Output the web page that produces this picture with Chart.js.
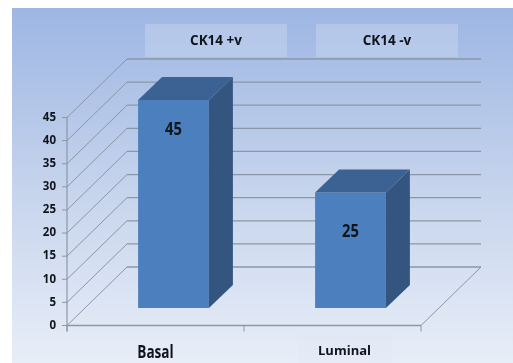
<!DOCTYPE html>
<html>
<head>
<meta charset="utf-8">
<title>CK14 expression</title>
<script src="https://cdn.jsdelivr.net/npm/chart.js@4"></script>
<style>
    body { margin: 0; background: #fff; }
    canvas { display: block; }
</style>
</head>
<body>
<canvas id="ckChart" width="513" height="363"></canvas>
<script>
// Chart data
const categories = ['Basal', 'Luminal'];
const caseCounts = [45, 25];
const wallTitles = ['CK14 +v', 'CK14 -v'];
const axisMax = 45;
const axisStep = 5;

// 3D box geometry, in pixels
const UNIT_PX = 208 / axisMax;
const BAR_SHIFT_X = 18;
const BAR_LIFT_Y = 17.5;
const BAR_DEPTH_X = 24;
const BAR_DEPTH_Y = 23;
const WALL_DEPTH_X = 60;
const WALL_DEPTH_Y = 58.5;

const FONT = '"Open Sans", sans-serif';
const GRID_COLOR = '#8b97a6';
const TEXT_COLOR = '#10151c';

function line(ctx, x1, y1, x2, y2, width) {
    ctx.lineWidth = width;
    ctx.beginPath();
    ctx.moveTo(x1, y1);
    ctx.lineTo(x2, y2);
    ctx.stroke();
}

function face(ctx, points, color) {
    ctx.fillStyle = color;
    ctx.beginPath();
    points.forEach((p, i) => (i ? ctx.lineTo(p[0], p[1]) : ctx.moveTo(p[0], p[1])));
    ctx.closePath();
    ctx.fill();
}

// Bold centred text; squeeze < 1 narrows the glyphs horizontally
function label(ctx, text, x, y, size, squeeze = 1) {
    ctx.save();
    ctx.translate(x, y);
    ctx.scale(squeeze, 1);
    ctx.fillStyle = TEXT_COLOR;
    ctx.font = `bold ${size}px ${FONT}`;
    ctx.textAlign = 'center';
    ctx.textBaseline = 'middle';
    ctx.fillText(text, 0, 0);
    ctx.restore();
}

// Background panel, walls, floor and gridlines
const wallsPlugin = {
    id: 'walls',
    beforeDraw(chart) {
        const ctx = chart.ctx;
        const grad = ctx.createLinearGradient(0, 8, 0, 363);
        grad.addColorStop(0, '#9db6e3');
        grad.addColorStop(0.5, '#c5d3ec');
        grad.addColorStop(1, '#e8eef8');
        ctx.fillStyle = grad;
        ctx.fillRect(12, 8, 501, 355);
    },
    beforeDatasetsDraw(chart) {
        const ctx = chart.ctx;
        const area = chart.chartArea;
        const yScale = chart.scales.y;
        const left = area.left - BAR_SHIFT_X;
        const right = area.right - BAR_SHIFT_X;
        const mid = (left + right) / 2;
        const floorY = yScale.getPixelForValue(0);
        const topY = yScale.getPixelForValue(axisMax);

        ctx.save();

        // Title tabs above the back wall
        const backWidth = right - left;
        ctx.fillStyle = 'rgba(205, 217, 240, 0.45)';
        ctx.fillRect(145, 24, 142, 33);
        ctx.fillRect(316, 24, 142, 33);
        label(ctx, wallTitles[0], 216, 41, 13.5);
        label(ctx, wallTitles[1], 387, 41, 13.5);

        // Tab behind the second category name
        ctx.fillStyle = 'rgba(225, 232, 246, 0.4)';
        ctx.fillRect(298, 332, 94, 31);

        ctx.strokeStyle = GRID_COLOR;
        for (let v = 0; v <= axisMax; v += axisStep) {
            const y = yScale.getPixelForValue(v);
            const backY = y - WALL_DEPTH_Y;
            line(ctx, left - 5, y, left, y, 1);
            line(ctx, left, y, left + WALL_DEPTH_X, backY, 1);
            line(ctx, left + WALL_DEPTH_X, backY, left + WALL_DEPTH_X + backWidth, backY, v === axisMax ? 1.6 : 1.3);
        }

        // Front axes and the far floor edge
        line(ctx, left, topY, left, floorY + 6, 1.2);
        line(ctx, left, floorY, right, floorY, 1.3);
        line(ctx, right, floorY, right + WALL_DEPTH_X, floorY - WALL_DEPTH_Y, 1);
        [left, mid, right].forEach(x => line(ctx, x, floorY, x, floorY + 6, 1));

        ctx.restore();
    },
    afterDatasetsDraw(chart) {
        const ctx = chart.ctx;
        const bars = chart.getDatasetMeta(0).data;

        ctx.save();
        bars.forEach((bar, i) => {
            const halfWidth = bar.width / 2;
            const l = bar.x - halfWidth;
            const r = bar.x + halfWidth;
            const dx = BAR_DEPTH_X;
            const dy = BAR_DEPTH_Y;

            // Side and top faces of the box
            face(ctx, [[r, bar.y], [r + dx, bar.y - dy], [r + dx, bar.base - dy], [r, bar.base]], '#33557f');
            face(ctx, [[l, bar.y], [l + dx, bar.y - dy], [r + dx, bar.y - dy], [r, bar.y]], '#3b6292');

            // Value printed on the front face
            const textY = i === 0 ? bar.y + 30 : bar.y + 39;
            label(ctx, String(caseCounts[i]), bar.x, textY, 18, 0.82);
        });

        // Category names under the floor
        const left = chart.chartArea.left - BAR_SHIFT_X;
        const right = chart.chartArea.right - BAR_SHIFT_X;
        label(ctx, categories[0], left + (right - left) / 4, 353, 17, 0.8);
        label(ctx, categories[1], bars[1].x - 6, 351, 13);
        ctx.restore();
    }
};

new Chart(document.getElementById('ckChart'), {
    type: 'bar',
    data: {
        labels: categories,
        datasets: [{
            data: caseCounts,
            yAxisID: 'bars',
            backgroundColor: '#4c7fbd',
            borderWidth: 0,
            barPercentage: 0.4,
            categoryPercentage: 1,
            clip: false
        }]
    },
    options: {
        responsive: false,
        animation: false,
        layout: { padding: { top: 117.5, right: 74, bottom: 37.5, left: 0 } },
        plugins: { legend: { display: false }, tooltip: { enabled: false } },
        scales: {
            x: { display: false },
            y: {
                min: 0,
                max: axisMax,
                afterFit(scale) { scale.width = 85; },
                border: { display: false },
                grid: { display: false, drawTicks: false },
                ticks: {
                    stepSize: axisStep,
                    padding: 29,
                    color: TEXT_COLOR,
                    font: { family: FONT, size: 11.5, weight: 'bold' }
                }
            },
            // Hidden axis that stands the bars on the raised floor
            bars: {
                display: false,
                min: -BAR_LIFT_Y / UNIT_PX,
                max: axisMax - BAR_LIFT_Y / UNIT_PX
            }
        }
    },
    plugins: [wallsPlugin]
});
</script>
</body>
</html>
